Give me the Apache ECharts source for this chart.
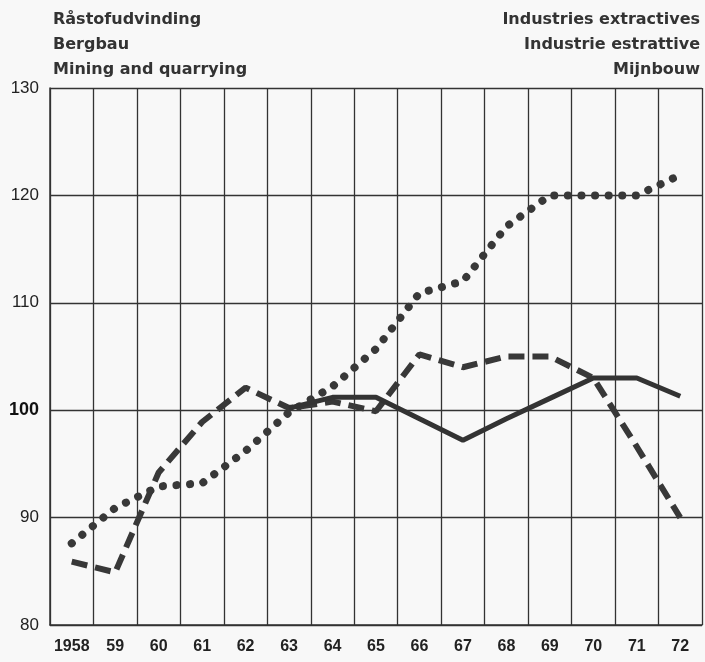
<!DOCTYPE html>
<html>
<head>
<meta charset="utf-8">
<script src="https://cdn.jsdelivr.net/npm/echarts@6/dist/echarts.min.js"></script>
<style>
  html, body { margin: 0; padding: 0; background: #f8f8f8; }
  #main { width: 705px; height: 662px; }
</style>
</head>
<body>
<div id="main"></div>
<script>
// years on the x axis
var years = ['1958', '59', '60', '61', '62', '63', '64', '65', '66', '67', '68', '69', '70', '71', '72'];
var yTicks = [80, 90, 100, 110, 120, 130];

// dotted series
var dottedVals = [87.6, 90.9, 92.9, 93.2, 96.2, 99.8, 102.2, 105.7, 110.9, 112.0, 117.1, 120.0, 120.0, 120.0, 121.9];
// dashed series
var dashedVals = [85.9, 84.9, 94.2, 98.9, 102.1, 100.2, 100.8, 99.9, 105.2, 104.0, 105.0, 105.0, 103.0, 96.6, 90.0];
// solid series (starts 1963)
var solidVals = [null, null, null, null, null, 100.2, 101.2, 101.2, 99.2, 97.2, 99.2, 101.1, 103.0, 103.0, 101.3];

var titleLeft = ['Råstofudvinding', 'Bergbau', 'Mining and quarrying'];
var titleRight = ['Industries extractives', 'Industrie estrattive', 'Mijnbouw'];

var chart = echarts.init(document.getElementById('main'));
var txtFont = 'Liberation Sans, Arial, sans-serif';
var headFont = 'bold 16px DejaVu Sans, sans-serif';

var graphics = [];
titleLeft.forEach(function (t, i) {
    graphics.push({
        type: 'text', left: 53, top: 12 + i * 25,
        style: { text: t, font: headFont, fill: '#333' }
    });
});
titleRight.forEach(function (t, i) {
    graphics.push({
        type: 'text', right: 5, top: 12 + i * 25,
        style: { text: t, font: headFont, fill: '#333', textAlign: 'right' }
    });
});

chart.setOption({
    backgroundColor: '#f8f8f8',
    animation: false,
    graphic: graphics,
    grid: { left: 50, right: 3, top: 88, bottom: 37 },
    xAxis: {
        type: 'category',
        data: years,
        boundaryGap: true,
        axisLine: { show: true, lineStyle: { color: '#333', width: 1.5 } },
        axisTick: { show: false, interval: 0 },
        splitLine: { show: true, interval: 0, lineStyle: { color: '#333', width: 1.3 } },
        axisLabel: { interval: 0, color: '#222', fontSize: 16, fontWeight: 'bold', fontFamily: txtFont, margin: 14 }
    },
    yAxis: {
        type: 'value',
        min: yTicks[0],
        max: yTicks[yTicks.length - 1],
        interval: 10,
        axisLine: { show: true, lineStyle: { color: '#333', width: 1.5 } },
        axisTick: { show: false },
        splitLine: { show: true, lineStyle: { color: '#333', width: 1.3 } },
        axisLabel: {
            color: '#222', fontSize: 17, fontFamily: txtFont, margin: 11,
            formatter: function (v) { return v === 100 ? '{b|100}' : String(v); },
            rich: { b: { fontSize: 18, fontWeight: 'bold', color: '#111', fontFamily: txtFont } }
        }
    },
    series: [
        {
            name: 'dotted', type: 'line', data: dottedVals, symbol: 'none',
            lineStyle: { color: '#383838', width: 8, type: [0.1, 13.5], cap: 'round' }
        },
        {
            name: 'dashed', type: 'line', data: dashedVals, symbol: 'none',
            lineStyle: { color: '#383838', width: 6, type: [16, 8] }
        },
        {
            name: 'solid', type: 'line', data: solidVals, symbol: 'none',
            lineStyle: { color: '#333', width: 5 }
        }
    ]
});
</script>
</body>
</html>
